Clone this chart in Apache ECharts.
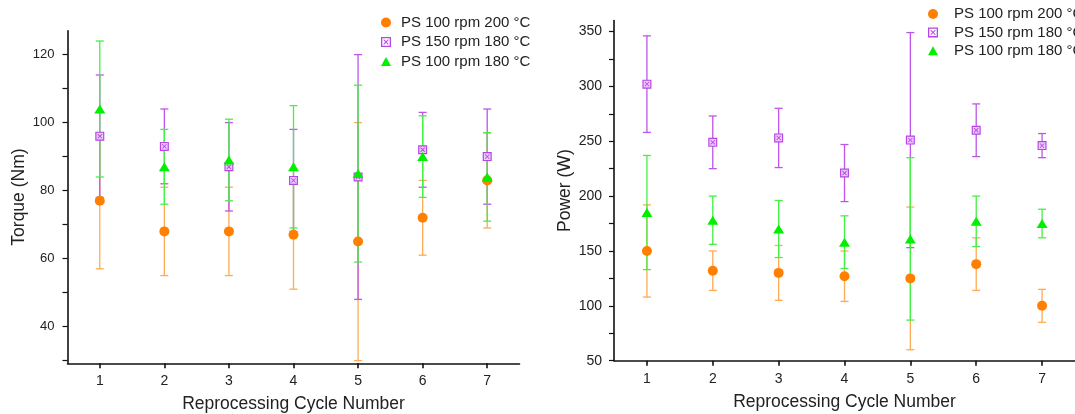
<!DOCTYPE html>
<html>
<head>
<meta charset="utf-8">
<script src="https://cdn.jsdelivr.net/npm/echarts@6/dist/echarts.min.js"></script>
<style>
html,body{margin:0;padding:0;background:#fff;}
#c{width:1075px;height:414px;}
</style>
</head>
<body>
<div id="c"></div>
<script>
// ---- data ----
const cycles = [1, 2, 3, 4, 5, 6, 7];
const seriesNames = ['PS 100 rpm 200 °C', 'PS 150 rpm 180 °C', 'PS 100 rpm 180 °C'];

const torque100rpm200 = [77, 68, 68, 67, 65, 72, 83];
const torque100rpm200Err = [20, 13, 13, 16, 35, 11, 14];
const torque150rpm180 = [96, 93, 87, 83, 84, 92, 90];
const torque150rpm180Err = [18, 11, 13, 15, 36, 11, 14];
const torque100rpm180 = [104, 87, 89, 87, 85, 90, 84];
const torque100rpm180Err = [20, 11, 12, 18, 26, 12, 13];

const power100rpm200 = [150, 132, 130, 127, 125, 138, 100];
const power100rpm200Err = [42, 18, 25, 23, 65, 24, 15];
const power150rpm180 = [302, 249, 253, 221, 251, 260, 246];
const power150rpm180Err = [44, 24, 27, 26, 98, 24, 11];
const power100rpm180 = [185, 178, 170, 158, 161, 177, 175];
const power100rpm180Err = [52, 22, 26, 24, 74, 23, 13];

const torqueTickLabels = [40, 60, 80, 100, 120];
const torqueTicks = [30, 40, 50, 60, 70, 80, 90, 100, 110, 120];
const powerTickLabels = [50, 100, 150, 200, 250, 300, 350];
const powerTicks = [50, 75, 100, 125, 150, 175, 200, 225, 250, 275, 300, 325, 350];

// ---- styles ----
const FONT = 'Liberation Sans, Arial, sans-serif';
const C_OR = '#FF8000', C_OR_E = '#FFAA55';
const C_PU = '#B545E6', C_PU_E = '#BE55EA', C_PU_F = '#EBCDF8';
const C_GR = '#00F000', C_GR_E = '#44F044';
const PURPLE_SYM = 'path://M0 0L10 0L10 10L0 10Z M1.3 1.3L1.3 8.7L8.7 8.7L8.7 1.3Z M2.3 3L3 2.3L7.7 7L7 7.7Z M7 2.3L7.7 3L3 7.7L2.3 7Z';
const TRI_SYM = 'path://M5 0L10 9L0 9Z';

function pts(vals) { return cycles.map((c, i) => [c, vals[i]]); }
function errs(vals, e) { return cycles.map((c, i) => [c, vals[i] - e[i], vals[i] + e[i]]); }

function errSeries(idx, vals, e, color, z) {
  return {
    type: 'custom', xAxisIndex: idx, yAxisIndex: idx, z: z, silent: true,
    data: errs(vals, e),
    renderItem: function (params, api) {
      const x = api.value(0);
      const lo = api.coord([x, api.value(1)]);
      const hi = api.coord([x, api.value(2)]);
      const hw = 4;
      const st = { stroke: color, lineWidth: 1.3 };
      return {
        type: 'group',
        children: [
          { type: 'line', shape: { x1: lo[0], y1: lo[1], x2: hi[0], y2: hi[1] }, style: st },
          { type: 'line', shape: { x1: lo[0] - hw, y1: lo[1], x2: lo[0] + hw, y2: lo[1] }, style: st },
          { type: 'line', shape: { x1: hi[0] - hw, y1: hi[1], x2: hi[0] + hw, y2: hi[1] }, style: st }
        ]
      };
    }
  };
}

function markerSeries(idx, v) {
  return [
    { name: seriesNames[0], type: 'scatter', xAxisIndex: idx, yAxisIndex: idx, z: 10,
      symbol: 'circle', symbolSize: 10, itemStyle: { color: C_OR, opacity: 1 }, data: pts(v[0]) },
    { type: 'scatter', xAxisIndex: idx, yAxisIndex: idx, z: 11, silent: true,
      symbol: 'rect', symbolSize: 8, itemStyle: { color: C_PU_F, opacity: 1 }, data: pts(v[1]) },
    { name: seriesNames[1], type: 'scatter', xAxisIndex: idx, yAxisIndex: idx, z: 12,
      symbol: PURPLE_SYM, symbolSize: 9, itemStyle: { color: C_PU, opacity: 1 }, data: pts(v[1]) },
    { name: seriesNames[2], type: 'scatter', xAxisIndex: idx, yAxisIndex: idx, z: 13,
      symbol: TRI_SYM, symbolSize: [11, 10], symbolKeepAspect: true, itemStyle: { color: C_GR, opacity: 1 }, data: pts(v[2]) }
  ];
}

function xAxisCfg(idx) {
  return {
    type: 'value', gridIndex: idx, min: 0.5, max: 7.5,
    name: 'Reprocessing Cycle Number', nameLocation: 'middle', nameGap: 32,
    nameTextStyle: { fontFamily: FONT, fontSize: 17.5, color: '#222' },
    axisLine: { show: true, onZero: false, lineStyle: { color: '#111', width: 1.6 } },
    axisTick: { show: true, inside: false, length: 5, customValues: cycles, lineStyle: { color: '#111', width: 1.6 } },
    axisLabel: { customValues: cycles, margin: 11, fontFamily: FONT, fontSize: 14, color: '#222' },
    splitLine: { show: false }
  };
}

function yAxisCfg(idx, name, min, max, labels, ticks, gap, fs, margin) {
  return {
    type: 'value', gridIndex: idx, min: min, max: max,
    name: name, nameLocation: 'middle', nameGap: gap,
    nameTextStyle: { fontFamily: FONT, fontSize: 17.5, color: '#222' },
    axisLine: { show: true, onZero: false, lineStyle: { color: '#111', width: 1.6 } },
    axisTick: { show: true, inside: false, length: 5, customValues: ticks, lineStyle: { color: '#111', width: 1.2 } },
    axisLabel: { customValues: labels, margin: margin, fontFamily: FONT, fontSize: fs, color: '#222' },
    splitLine: { show: false }
  };
}

const chart = echarts.init(document.getElementById('c'), null, { renderer: 'canvas' });
chart.setOption({
  backgroundColor: '#fff',
  animation: false,
  grid: [
    { left: 67.5, top: 30.8, width: 452, bottom: 50.7, outerBoundsMode: 'none', containLabel: false },
    { left: 614, top: 20.5, width: 461, bottom: 53.3, outerBoundsMode: 'none', containLabel: false }
  ],
  legend: [
    { data: seriesNames, orient: 'vertical', left: 376, top: 10, itemWidth: 10, itemHeight: 10, itemGap: 4.5,
      textStyle: { fontFamily: FONT, fontSize: 15, color: '#222', lineHeight: 15, padding: [0, 0, 0, 5] } },
    { data: seriesNames, orient: 'vertical', left: 923, top: 1.5, itemWidth: 10, itemHeight: 10, itemGap: 3.4,
      textStyle: { fontFamily: FONT, fontSize: 15, color: '#222', lineHeight: 15, padding: [0, 0, 0, 11] } }
  ],
  xAxis: [xAxisCfg(0), xAxisCfg(1)],
  yAxis: [
    yAxisCfg(0, 'Torque (Nm)', 29.2, 127, torqueTickLabels, torqueTicks, 39, 13, 13),
    yAxisCfg(1, 'Power (W)', 50, 360, powerTickLabels, powerTicks, 40, 14, 12)
  ],
  series: [
    errSeries(0, torque100rpm200, torque100rpm200Err, C_OR_E, 2),
    errSeries(0, torque150rpm180, torque150rpm180Err, C_PU_E, 3),
    errSeries(0, torque100rpm180, torque100rpm180Err, C_GR_E, 4),
    errSeries(1, power100rpm200, power100rpm200Err, C_OR_E, 2),
    errSeries(1, power150rpm180, power150rpm180Err, C_PU_E, 3),
    errSeries(1, power100rpm180, power100rpm180Err, C_GR_E, 4)
  ].concat(
    markerSeries(0, [torque100rpm200, torque150rpm180, torque100rpm180]),
    markerSeries(1, [power100rpm200, power150rpm180, power100rpm180])
  )
});
</script>
</body>
</html>
